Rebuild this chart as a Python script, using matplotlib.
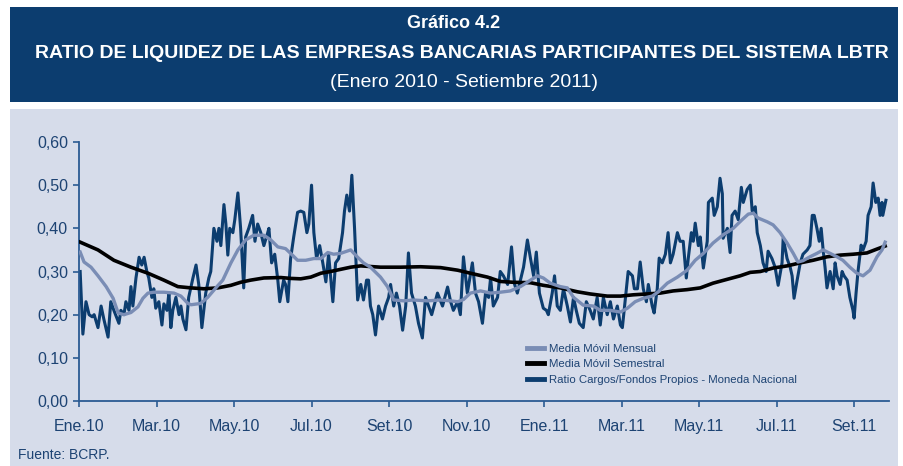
import matplotlib
matplotlib.use("Agg")
import matplotlib.pyplot as plt
from matplotlib.patches import Rectangle

# months since Jan 2010 (0 = start of Ene.10)
ratio_m = [0.03, 0.10, 0.18, 0.26, 0.34, 0.39, 0.49, 0.57, 0.64, 0.75, 0.82, 0.90, 1.03, 1.08, 1.16, 1.21,
           1.29, 1.34, 1.39, 1.47, 1.55, 1.62, 1.68, 1.75, 1.80, 1.88, 1.93, 1.98, 2.06, 2.14, 2.19, 2.27,
           2.32, 2.37, 2.42, 2.50, 2.58, 2.63, 2.68, 2.76, 2.83, 2.94, 3.02, 3.09, 3.17, 3.27, 3.35, 3.40,
           3.48, 3.56, 3.61, 3.66, 3.74, 3.79, 3.84, 3.89, 3.97, 4.02, 4.10, 4.17, 4.25, 4.30, 4.38, 4.48,
           4.54, 4.61, 4.69, 4.77, 4.87, 4.90, 4.97, 5.05, 5.13, 5.18, 5.28, 5.33, 5.39, 5.46, 5.54, 5.64,
           5.72, 5.80, 5.88, 5.93, 6.00, 6.06, 6.13, 6.21, 6.29, 6.37, 6.44, 6.55, 6.62, 6.70, 6.80, 6.85,
           6.91, 6.98, 7.04, 7.11, 7.19, 7.27, 7.34, 7.42, 7.47, 7.52, 7.58, 7.65, 7.73, 7.83, 7.91, 7.99,
           8.04, 8.12, 8.19, 8.27, 8.35, 8.43, 8.50, 8.58, 8.68, 8.76, 8.86, 8.94, 9.02, 9.10, 9.25, 9.38,
           9.51, 9.59, 9.66, 9.77, 9.84, 9.92, 10.02, 10.15, 10.23, 10.31, 10.41, 10.49, 10.57, 10.62, 10.69, 10.80,
           10.87, 10.95, 11.06, 11.16, 11.24, 11.31, 11.39, 11.47, 11.57, 11.65, 11.73, 11.80, 11.88, 11.98, 12.06, 12.11,
           12.21, 12.27, 12.34, 12.42, 12.50, 12.60, 12.68, 12.76, 12.83, 12.91, 13.01, 13.09, 13.19, 13.27, 13.37, 13.45,
           13.53, 13.63, 13.71, 13.79, 13.89, 13.97, 14.02, 14.10, 14.17, 14.28, 14.33, 14.41, 14.48, 14.56, 14.64, 14.69,
           14.79, 14.84, 14.92, 14.97, 15.05, 15.13, 15.20, 15.26, 15.33, 15.44, 15.51, 15.59, 15.67, 15.72, 15.80, 15.85,
           15.90, 15.98, 16.03, 16.11, 16.21, 16.24, 16.34, 16.39, 16.47, 16.54, 16.60, 16.62, 16.73, 16.80, 16.85, 16.93,
           17.01, 17.09, 17.14, 17.24, 17.32, 17.37, 17.45, 17.50, 17.58, 17.65, 17.73, 17.78, 17.88, 17.96, 18.04, 18.14,
           18.17, 18.27, 18.35, 18.40, 18.45, 18.53, 18.61, 18.68, 18.79, 18.86, 18.92, 18.97, 19.04, 19.10, 19.15, 19.20,
           19.25, 19.30, 19.38, 19.46, 19.51, 19.56, 19.64, 19.69, 19.74, 19.82, 19.89, 19.97, 20.00, 20.05, 20.10, 20.18,
           20.23, 20.31, 20.36, 20.44, 20.49, 20.56, 20.62, 20.67, 20.72, 20.74, 20.82]
ratio_v = [0.30, 0.155, 0.23, 0.20, 0.195, 0.20, 0.17, 0.22, 0.19, 0.148, 0.23, 0.21, 0.18, 0.21, 0.20, 0.23,
           0.21, 0.265, 0.22, 0.285, 0.333, 0.315, 0.333, 0.30, 0.285, 0.24, 0.26, 0.215, 0.23, 0.176, 0.225, 0.21,
           0.25, 0.17, 0.21, 0.24, 0.20, 0.22, 0.19, 0.165, 0.24, 0.285, 0.315, 0.27, 0.17, 0.25, 0.285, 0.30,
           0.40, 0.37, 0.40, 0.36, 0.455, 0.41, 0.338, 0.40, 0.39, 0.42, 0.482, 0.40, 0.262, 0.38, 0.40, 0.43,
           0.37, 0.41, 0.39, 0.36, 0.39, 0.40, 0.32, 0.34, 0.28, 0.23, 0.28, 0.27, 0.23, 0.33, 0.38, 0.437,
           0.44, 0.437, 0.39, 0.41, 0.50, 0.39, 0.33, 0.36, 0.32, 0.276, 0.34, 0.23, 0.32, 0.33, 0.39, 0.44,
           0.477, 0.44, 0.523, 0.40, 0.234, 0.27, 0.234, 0.28, 0.28, 0.22, 0.20, 0.153, 0.22, 0.19, 0.22, 0.24,
           0.27, 0.22, 0.25, 0.22, 0.164, 0.22, 0.343, 0.25, 0.22, 0.18, 0.146, 0.24, 0.22, 0.20, 0.25, 0.22,
           0.264, 0.23, 0.21, 0.23, 0.20, 0.334, 0.25, 0.32, 0.25, 0.23, 0.18, 0.25, 0.24, 0.285, 0.22, 0.24,
           0.30, 0.29, 0.27, 0.357, 0.27, 0.25, 0.28, 0.31, 0.373, 0.33, 0.29, 0.345, 0.25, 0.215, 0.21, 0.20,
           0.25, 0.29, 0.22, 0.21, 0.26, 0.22, 0.183, 0.24, 0.21, 0.18, 0.17, 0.23, 0.21, 0.19, 0.24, 0.176,
           0.24, 0.20, 0.23, 0.19, 0.22, 0.176, 0.17, 0.24, 0.30, 0.29, 0.26, 0.26, 0.322, 0.26, 0.23, 0.27,
           0.22, 0.204, 0.26, 0.331, 0.32, 0.34, 0.39, 0.32, 0.34, 0.39, 0.37, 0.37, 0.285, 0.33, 0.39, 0.37,
           0.412, 0.36, 0.38, 0.308, 0.37, 0.46, 0.47, 0.43, 0.45, 0.516, 0.48, 0.377, 0.40, 0.344, 0.43, 0.44,
           0.42, 0.495, 0.46, 0.49, 0.50, 0.44, 0.45, 0.39, 0.36, 0.32, 0.30, 0.347, 0.33, 0.31, 0.268, 0.32,
           0.377, 0.33, 0.31, 0.29, 0.238, 0.28, 0.32, 0.34, 0.35, 0.36, 0.43, 0.43, 0.40, 0.37, 0.40, 0.35,
           0.31, 0.262, 0.30, 0.26, 0.32, 0.29, 0.27, 0.30, 0.29, 0.28, 0.24, 0.21, 0.192, 0.25, 0.30, 0.361,
           0.35, 0.37, 0.43, 0.45, 0.505, 0.46, 0.47, 0.43, 0.46, 0.43, 0.465]

mensual_m = [0.03, 0.13, 0.31, 0.49, 0.70, 0.88, 1.01, 1.16, 1.34, 1.52, 1.65, 1.78, 1.93, 2.19, 2.45, 2.63,
             2.81, 2.89, 3.14, 3.32, 3.53, 3.71, 3.92, 4.10, 4.30, 4.51, 4.77, 4.95, 5.13, 5.33, 5.46, 5.64,
             5.85, 6.06, 6.24, 6.42, 6.57, 6.75, 7.01, 7.19, 7.34, 7.52, 7.78, 7.96, 8.12, 8.38, 8.63, 8.99,
             9.33, 9.59, 9.77, 9.92, 10.10, 10.36, 10.62, 10.87, 11.13, 11.39, 11.65, 11.83, 11.98, 12.16, 12.42, 12.60,
             12.76, 13.01, 13.27, 13.45, 13.71, 13.97, 14.15, 14.35, 14.56, 14.79, 14.95, 15.18, 15.44, 15.69, 15.90, 16.11,
             16.36, 16.62, 16.88, 17.11, 17.27, 17.40, 17.52, 17.76, 17.91, 18.09, 18.27, 18.43, 18.55, 18.68, 18.86, 19.04,
             19.20, 19.38, 19.56, 19.71, 19.89, 20.07, 20.23, 20.41, 20.59, 20.72, 20.80]
mensual_v = [0.345, 0.322, 0.31, 0.29, 0.265, 0.238, 0.204, 0.20, 0.205, 0.218, 0.238, 0.25, 0.252, 0.252, 0.25, 0.243,
             0.226, 0.223, 0.226, 0.24, 0.262, 0.28, 0.32, 0.35, 0.373, 0.384, 0.384, 0.373, 0.357, 0.353, 0.342, 0.326,
             0.326, 0.33, 0.33, 0.344, 0.34, 0.342, 0.35, 0.333, 0.32, 0.31, 0.287, 0.265, 0.234, 0.232, 0.234, 0.232,
             0.234, 0.232, 0.23, 0.235, 0.25, 0.255, 0.25, 0.252, 0.255, 0.265, 0.28, 0.29, 0.285, 0.273, 0.265, 0.262,
             0.24, 0.222, 0.22, 0.21, 0.21, 0.206, 0.215, 0.23, 0.238, 0.243, 0.253, 0.273, 0.287, 0.303, 0.326, 0.342,
             0.366, 0.385, 0.40, 0.42, 0.433, 0.435, 0.424, 0.415, 0.408, 0.39, 0.366, 0.342, 0.322, 0.325, 0.334, 0.342,
             0.35, 0.342, 0.334, 0.326, 0.31, 0.296, 0.29, 0.303, 0.334, 0.35, 0.368]

semestral_m = [0.03, 0.49, 0.90, 1.34, 1.78, 2.19, 2.55, 2.89, 3.22, 3.58, 3.92, 4.17, 4.43, 4.77, 5.21, 5.46,
               5.72, 5.98, 6.24, 6.49, 6.75, 7.01, 7.27, 7.78, 8.30, 8.81, 9.33, 9.77, 10.10, 10.54, 10.87, 11.21,
               11.65, 11.98, 12.42, 12.86, 13.19, 13.63, 13.97, 14.30, 14.66, 15.00, 15.33, 15.69, 16.03, 16.36, 16.73, 17.06,
               17.32, 17.58, 17.91, 18.27, 18.61, 18.94, 19.30, 19.64, 19.97, 20.33, 20.59, 20.80]
semestral_v = [0.368, 0.35, 0.326, 0.31, 0.296, 0.28, 0.265, 0.262, 0.26, 0.262, 0.268, 0.275, 0.28, 0.285, 0.286, 0.284,
               0.283, 0.287, 0.296, 0.30, 0.305, 0.31, 0.313, 0.31, 0.31, 0.311, 0.309, 0.303, 0.296, 0.287, 0.277, 0.275,
               0.274, 0.268, 0.262, 0.253, 0.248, 0.243, 0.243, 0.246, 0.248, 0.25, 0.255, 0.258, 0.262, 0.273, 0.282, 0.29,
               0.298, 0.30, 0.308, 0.313, 0.32, 0.326, 0.334, 0.338, 0.34, 0.343, 0.352, 0.359]

tick_months = [0, 2, 4, 6, 8, 10, 12, 14, 16, 18, 20]
tick_labels = ["Ene.10", "Mar.10", "May.10", "Jul.10", "Set.10", "Nov.10",
               "Ene.11", "Mar.11", "May.11", "Jul.11", "Set.11"]
y_ticks = [0.0, 0.1, 0.2, 0.3, 0.4, 0.5, 0.6]

navy = "#0c3d6f"
light = "#7a8db5"
panel = "#d6dcea"
txt = "#1d4373"
fam = ["Liberation Sans", "DejaVu Sans"]

W, H = 904, 466
fig = plt.figure(figsize=(W / 100, H / 100), dpi=100)
fig.patch.set_facecolor("white")

# header band and panel
fig.patches.append(Rectangle((10 / W, 1 - 102 / H), 888 / W, 95 / H, transform=fig.transFigure,
                             facecolor=navy, edgecolor="none", zorder=-2))
fig.patches.append(Rectangle((10 / W, 0), 888 / W, 1 - 109 / H, transform=fig.transFigure,
                             facecolor=panel, edgecolor="none", zorder=-2))

fig.text(454 / W, 1 - 23 / H, "Gráfico 4.2", color="white", fontsize=13, fontweight="bold",
         ha="center", va="center", family=fam)
fig.text(462 / W, 1 - 53 / H, "RATIO DE LIQUIDEZ DE LAS EMPRESAS BANCARIAS PARTICIPANTES DEL SISTEMA LBTR",
         color="white", fontsize=14, fontweight="bold", ha="center", va="center", family=fam)
fig.text(464 / W, 1 - 83 / H, "(Enero 2010 - Setiembre 2011)", color="white", fontsize=14,
         ha="center", va="center", family=fam)

ax = fig.add_axes([79 / W, 1 - 401 / H, 810 / W, 259 / H])
ax.set_facecolor("none")
ax.set_zorder(1)

ax.plot(ratio_m, ratio_v, color=navy, lw=2.2, zorder=2, solid_joinstyle="round",
        label="Ratio Cargos/Fondos Propios - Moneda Nacional")
ax.plot(semestral_m, semestral_v, color="black", lw=2.6, zorder=3, label="Media Móvil Semestral")
ax.plot(mensual_m, mensual_v, color=light, lw=2.4, zorder=4, label="Media Móvil Mensual")

ax.set_xlim(0, 20.9)
ax.set_ylim(0, 0.6)
ax.set_xticks(tick_months)
ax.set_xticklabels(tick_labels)
ax.set_yticks(y_ticks)
ax.set_yticklabels([f"{v:.2f}".replace(".", ",") for v in y_ticks])

for s in ["top", "right"]:
    ax.spines[s].set_visible(False)
for s in ["left", "bottom"]:
    ax.spines[s].set_color("#2b5b93")
    ax.spines[s].set_linewidth(1.3)
ax.tick_params(axis="both", colors="#2b5b93", labelcolor=txt, length=4, width=1.2)
ax.tick_params(axis="x", pad=9)
ax.tick_params(axis="y", pad=4)
for lab in ax.get_xticklabels() + ax.get_yticklabels():
    lab.set_family(fam)
    lab.set_fontsize(11.5)

handles, labels = ax.get_legend_handles_labels()
order = [2, 1, 0]
leg = ax.legend([handles[i] for i in order], [labels[i] for i in order],
                loc="upper left", bbox_to_anchor=(0.553, 0.222), frameon=False,
                borderpad=0, borderaxespad=0, handlelength=1.5, handletextpad=0.4,
                labelspacing=0.5, prop={"family": fam, "size": 8.2})
for t in leg.get_texts():
    t.set_color(txt)
for l in leg.get_lines():
    l.set_linewidth(3.5)

fig.text(18 / W, 1 - 455 / H, "Fuente: BCRP.", color=txt, fontsize=10, ha="left", va="center",
         family=fam)

fig.savefig("out.png", dpi=100)
